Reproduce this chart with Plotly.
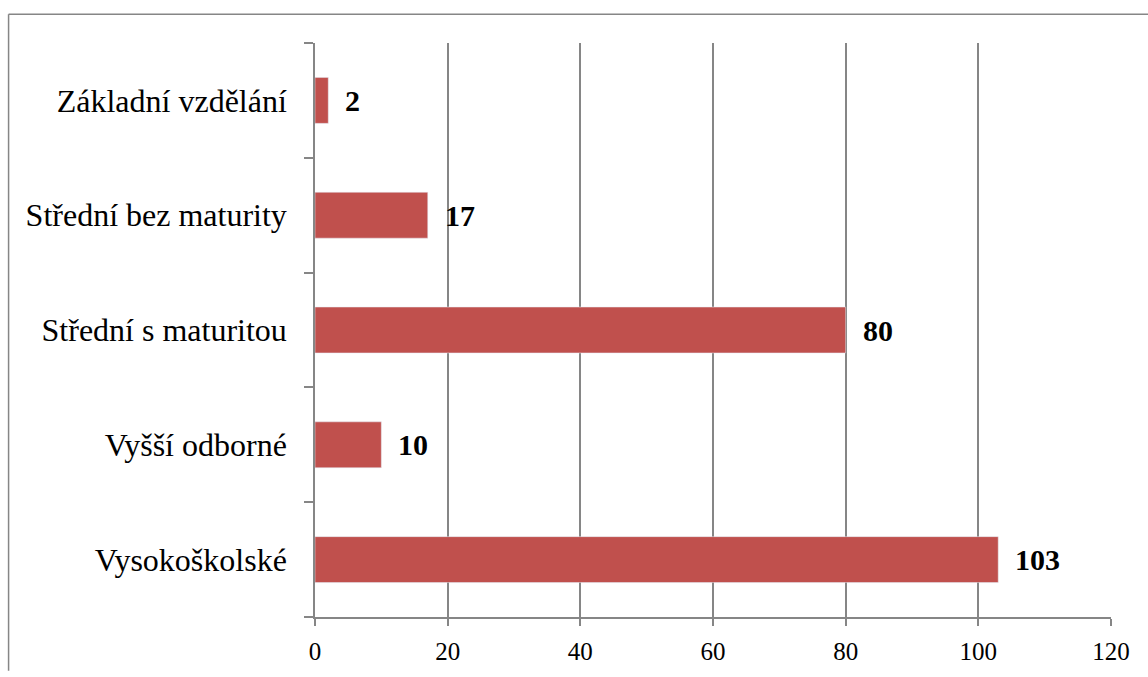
import plotly.graph_objects as go

# Education levels, listed bottom to top as drawn on the category axis
categories = [
    "Vysokoškolské",
    "Vyšší odborné",
    "Střední s maturitou",
    "Střední bez maturity",
    "Základní vzdělání",
]
counts = [103, 10, 80, 17, 2]
x_ticks = [0, 20, 40, 60, 80, 100, 120]

BAR = "#C0504D"
GRID = "#868686"
INK = "#000000"
SERIF = "Tinos"
SERIF_X = "Times New Roman"

W, H = 1148, 677
L, R, T, B = 314.5, 37.3, 43.0, 54.3

fig = go.Figure(go.Bar(x=counts, y=categories, orientation="h", marker_color=BAR))

# Bold value labels just past each bar end
for c, v in zip(categories, counts):
    fig.add_annotation(
        x=v, y=c, text=str(v), showarrow=False,
        xanchor="left", yanchor="middle", xshift=15,
        font=dict(family=SERIF, size=30, color=INK, weight="bold"),
    )

# Outer chart frame: top and left edges
pw = W - L - R
ph = H - T - B
fx = (8 - L) / pw
fy = (H - B - 14) / ph
fig.add_shape(type="line", xref="paper", yref="paper",
              x0=fx, x1=(W - L) / pw, y0=fy, y1=fy,
              line=dict(color=GRID, width=1.5))
fig.add_shape(type="line", xref="paper", yref="paper",
              x0=fx, x1=fx, y0=fy, y1=-B / ph,
              line=dict(color=GRID, width=1.5))

fig.update_layout(
    width=W, height=H,
    margin=dict(l=L, r=R, t=T, b=B),
    plot_bgcolor="white",
    bargap=0.6,
    xaxis=dict(
        range=[0, 120], tickvals=x_ticks, ticktext=[str(t) for t in x_ticks],
        gridcolor=GRID, gridwidth=1.5,
        showline=True, linecolor=GRID, linewidth=1.5,
        ticks="outside", ticklen=7, tickcolor=GRID, tickwidth=1.5,
        ticklabelstandoff=4,
        tickfont=dict(family=SERIF_X, size=25, color=INK),
        zeroline=False,
    ),
    yaxis=dict(
        categoryorder="array", categoryarray=categories,
        showline=True, linecolor=GRID, linewidth=1.5,
        ticks="outside", tickson="boundaries", ticklen=9,
        tickcolor=GRID, tickwidth=1.5,
        ticklabelstandoff=20,
        tickfont=dict(family=SERIF, size=32, color=INK),
    ),
)

fig.write_html("out.html")
